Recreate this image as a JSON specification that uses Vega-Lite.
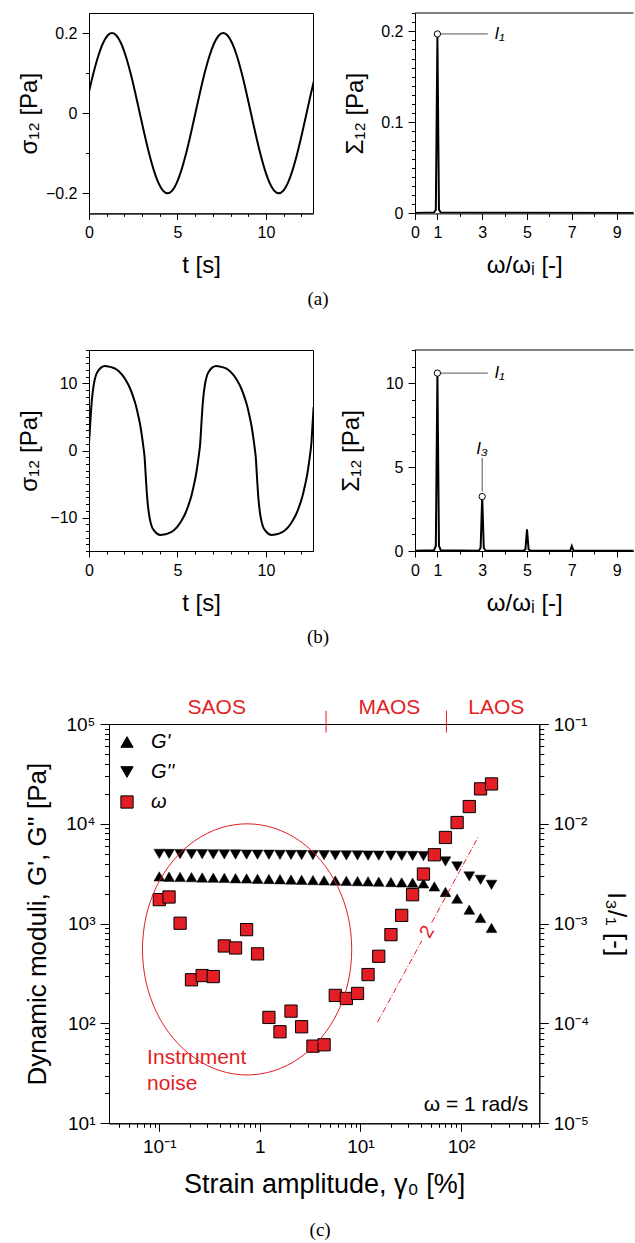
{
  "$schema": "https://vega.github.io/schema/vega-lite/v6.json",
  "padding": {"left": 16, "top": 5, "right": 0, "bottom": 0},
  "background": "white",
  "bounds": "full",
  "spacing": 48,
  "resolve": {"scale": {"color": "independent", "shape": "independent"}, "legend": {"color": "independent", "shape": "independent"}},
  "config": {
    "font": "Liberation Sans",
    "view": {"stroke": "black", "strokeWidth": 1},
    "axis": {"grid": false, "domainColor": "black", "domainWidth": 1, "tickColor": "black", "tickWidth": 1, "labelColor": "black", "titleColor": "black", "labelFont": "Liberation Sans", "titleFont": "Liberation Sans", "labelFontSize": 16, "titleFontSize": 24, "titleFontWeight": "normal", "labelFlush": false, "labelOverlap": false, "labelPadding": 3},
    "title": {"font": "Liberation Serif", "fontSize": 19, "fontWeight": "normal", "color": "black"},
    "text": {"font": "Liberation Sans"}
  },
  "datasets": {
    "sineA": [
      {"t": 0, "s": 0.0535}, {"t": 0.253, "s": 0.1}, {"t": 0.515, "s": 0.1414}, {"t": 0.776, "s": 0.1732}, {"t": 1.038, "s": 0.1932}, {"t": 1.3, "s": 0.2}, {"t": 1.562, "s": 0.1932}, {"t": 1.824, "s": 0.1732}, {"t": 2.085, "s": 0.1414}, {"t": 2.347, "s": 0.1}, {"t": 2.609, "s": 0.0518}, {"t": 2.871, "s": 0}, {"t": 3.133, "s": -0.0518}, {"t": 3.394, "s": -0.1}, {"t": 3.656, "s": -0.1414}, {"t": 3.918, "s": -0.1732}, {"t": 4.18, "s": -0.1932}, {"t": 4.442, "s": -0.2}, {"t": 4.703, "s": -0.1932}, {"t": 4.965, "s": -0.1732}, {"t": 5.227, "s": -0.1414}, {"t": 5.489, "s": -0.1}, {"t": 5.751, "s": -0.0518}, {"t": 6.012, "s": 0}, {"t": 6.274, "s": 0.0518}, {"t": 6.536, "s": 0.1}, {"t": 6.798, "s": 0.1414}, {"t": 7.06, "s": 0.1732}, {"t": 7.321, "s": 0.1932}, {"t": 7.583, "s": 0.2}, {"t": 7.845, "s": 0.1932}, {"t": 8.107, "s": 0.1732}, {"t": 8.369, "s": 0.1414}, {"t": 8.63, "s": 0.1}, {"t": 8.892, "s": 0.0518}, {"t": 9.154, "s": 0}, {"t": 9.416, "s": -0.0518}, {"t": 9.678, "s": -0.1}, {"t": 9.939, "s": -0.1414}, {"t": 10.201, "s": -0.1732}, {"t": 10.463, "s": -0.1932}, {"t": 10.725, "s": -0.2}, {"t": 10.987, "s": -0.1932}, {"t": 11.248, "s": -0.1732}, {"t": 11.51, "s": -0.1414}, {"t": 11.772, "s": -0.1}, {"t": 12.034, "s": -0.0518}, {"t": 12.296, "s": 0}, {"t": 12.557, "s": 0.0518}, {"t": 12.819, "s": 0.1}
    ],
    "stressB": [
      {"t": 0, "s": 1.0}, {"t": 0.07, "s": 4.0}, {"t": 0.13, "s": 6.5}, {"t": 0.2, "s": 8.5}, {"t": 0.28, "s": 10.0}, {"t": 0.4, "s": 11.3}, {"t": 0.55, "s": 12.0}, {"t": 0.7, "s": 12.4}, {"t": 0.9, "s": 12.6}, {"t": 1.1, "s": 12.55}, {"t": 1.3, "s": 12.4}, {"t": 1.5, "s": 12.2}, {"t": 1.7, "s": 11.8}, {"t": 1.9, "s": 11.2}, {"t": 2.1, "s": 10.4}, {"t": 2.3, "s": 9.4}, {"t": 2.5, "s": 8.0}, {"t": 2.65, "s": 6.7}, {"t": 2.8, "s": 5.0}, {"t": 2.9, "s": 3.7}, {"t": 3.0, "s": 2.0}, {"t": 3.07, "s": 0.6},
      {"t": 3.142, "s": -1.0}, {"t": 3.212, "s": -4.0}, {"t": 3.272, "s": -6.5}, {"t": 3.342, "s": -8.5}, {"t": 3.422, "s": -10.0}, {"t": 3.542, "s": -11.3}, {"t": 3.692, "s": -12.0}, {"t": 3.842, "s": -12.4}, {"t": 4.042, "s": -12.6}, {"t": 4.242, "s": -12.55}, {"t": 4.442, "s": -12.4}, {"t": 4.642, "s": -12.2}, {"t": 4.842, "s": -11.8}, {"t": 5.042, "s": -11.2}, {"t": 5.242, "s": -10.4}, {"t": 5.442, "s": -9.4}, {"t": 5.642, "s": -8.0}, {"t": 5.792, "s": -6.7}, {"t": 5.942, "s": -5.0}, {"t": 6.042, "s": -3.7}, {"t": 6.142, "s": -2.0}, {"t": 6.212, "s": -0.6},
      {"t": 6.283, "s": 1.0}, {"t": 6.353, "s": 4.0}, {"t": 6.413, "s": 6.5}, {"t": 6.483, "s": 8.5}, {"t": 6.563, "s": 10.0}, {"t": 6.683, "s": 11.3}, {"t": 6.833, "s": 12.0}, {"t": 6.983, "s": 12.4}, {"t": 7.183, "s": 12.6}, {"t": 7.383, "s": 12.55}, {"t": 7.583, "s": 12.4}, {"t": 7.783, "s": 12.2}, {"t": 7.983, "s": 11.8}, {"t": 8.183, "s": 11.2}, {"t": 8.383, "s": 10.4}, {"t": 8.583, "s": 9.4}, {"t": 8.783, "s": 8.0}, {"t": 8.933, "s": 6.7}, {"t": 9.083, "s": 5.0}, {"t": 9.183, "s": 3.7}, {"t": 9.283, "s": 2.0}, {"t": 9.353, "s": 0.6},
      {"t": 9.425, "s": -1.0}, {"t": 9.495, "s": -4.0}, {"t": 9.555, "s": -6.5}, {"t": 9.625, "s": -8.5}, {"t": 9.705, "s": -10.0}, {"t": 9.825, "s": -11.3}, {"t": 9.975, "s": -12.0}, {"t": 10.125, "s": -12.4}, {"t": 10.325, "s": -12.6}, {"t": 10.525, "s": -12.55}, {"t": 10.725, "s": -12.4}, {"t": 10.925, "s": -12.2}, {"t": 11.125, "s": -11.8}, {"t": 11.325, "s": -11.2}, {"t": 11.525, "s": -10.4}, {"t": 11.725, "s": -9.4}, {"t": 11.925, "s": -8.0}, {"t": 12.075, "s": -6.7}, {"t": 12.225, "s": -5.0}, {"t": 12.325, "s": -3.7}, {"t": 12.425, "s": -2.0}, {"t": 12.495, "s": -0.6},
      {"t": 12.566, "s": 1.0}, {"t": 12.636, "s": 4.0}, {"t": 12.696, "s": 6.5}
    ],
    "specA": [
      {"f": 0, "A": 0.0005}, {"f": 0.85, "A": 0.001}, {"f": 0.93, "A": 0.004}, {"f": 1.0, "A": 0.195}, {"f": 1.07, "A": 0.004}, {"f": 1.15, "A": 0.001}, {"f": 3, "A": 0.0008}, {"f": 10, "A": 0.0005}
    ],
    "specB": [
      {"f": 0, "A": 0.02}, {"f": 0.85, "A": 0.05}, {"f": 0.93, "A": 0.3}, {"f": 1.0, "A": 10.6}, {"f": 1.07, "A": 0.3}, {"f": 1.15, "A": 0.05}, {"f": 2.85, "A": 0.02}, {"f": 2.93, "A": 0.2}, {"f": 3.0, "A": 3.25}, {"f": 3.07, "A": 0.2}, {"f": 3.15, "A": 0.02}, {"f": 4.85, "A": 0.02}, {"f": 4.93, "A": 0.1}, {"f": 5.0, "A": 1.3}, {"f": 5.07, "A": 0.1}, {"f": 5.15, "A": 0.02}, {"f": 6.85, "A": 0.02}, {"f": 6.93, "A": 0.03}, {"f": 7.0, "A": 0.3}, {"f": 7.07, "A": 0.03}, {"f": 7.15, "A": 0.02}, {"f": 10, "A": 0.02}
    ],
    "moduli": [
      {"strain": 0.1, "Gp": 2970, "Gpp": 5000, "I31": 0.00174},
      {"strain": 0.125, "Gp": 2950, "Gpp": 4990, "I31": 0.00185},
      {"strain": 0.161, "Gp": 2935, "Gpp": 4980, "I31": 0.00101},
      {"strain": 0.209, "Gp": 2920, "Gpp": 4970, "I31": 0.000274},
      {"strain": 0.267, "Gp": 2900, "Gpp": 4960, "I31": 0.000302},
      {"strain": 0.344, "Gp": 2885, "Gpp": 4950, "I31": 0.000295},
      {"strain": 0.443, "Gp": 2870, "Gpp": 4940, "I31": 0.000598},
      {"strain": 0.573, "Gp": 2850, "Gpp": 4930, "I31": 0.000571},
      {"strain": 0.738, "Gp": 2835, "Gpp": 4920, "I31": 0.000871},
      {"strain": 0.948, "Gp": 2815, "Gpp": 4910, "I31": 0.000498},
      {"strain": 1.23, "Gp": 2800, "Gpp": 4900, "I31": 0.000115},
      {"strain": 1.585, "Gp": 2785, "Gpp": 4890, "I31": 0.0000826},
      {"strain": 2.04, "Gp": 2765, "Gpp": 4880, "I31": 0.000133},
      {"strain": 2.6, "Gp": 2750, "Gpp": 4870, "I31": 0.0000927},
      {"strain": 3.37, "Gp": 2730, "Gpp": 4860, "I31": 0.0000593},
      {"strain": 4.35, "Gp": 2715, "Gpp": 4850, "I31": 0.0000612},
      {"strain": 5.62, "Gp": 2700, "Gpp": 4840, "I31": 0.000191},
      {"strain": 7.24, "Gp": 2680, "Gpp": 4830, "I31": 0.000178},
      {"strain": 9.35, "Gp": 2665, "Gpp": 4820, "I31": 0.0002},
      {"strain": 11.9, "Gp": 2650, "Gpp": 4810, "I31": 0.000309},
      {"strain": 15.2, "Gp": 2630, "Gpp": 4800, "I31": 0.000471},
      {"strain": 20.1, "Gp": 2610, "Gpp": 4790, "I31": 0.000776},
      {"strain": 25.7, "Gp": 2590, "Gpp": 4780, "I31": 0.00121},
      {"strain": 33.0, "Gp": 2570, "Gpp": 4770, "I31": 0.00195},
      {"strain": 42.3, "Gp": 2530, "Gpp": 4750, "I31": 0.00314},
      {"strain": 54.3, "Gp": 2360, "Gpp": 4700, "I31": 0.0049},
      {"strain": 70.0, "Gp": 2075, "Gpp": 4200, "I31": 0.0073},
      {"strain": 91.4, "Gp": 1780, "Gpp": 3740, "I31": 0.0103},
      {"strain": 120.8, "Gp": 1380, "Gpp": 2970, "I31": 0.0149},
      {"strain": 156.3, "Gp": 1140, "Gpp": 2750, "I31": 0.0224},
      {"strain": 200.9, "Gp": 905, "Gpp": 2450, "I31": 0.0251}
    ],
    "ellipse": [
      {"i": 0, "lx": 0.913, "ly": 2.742}, {"i": 1, "lx": 0.878, "ly": 3.068}, {"i": 2, "lx": 0.774, "ly": 3.371}, {"i": 3, "lx": 0.608, "ly": 3.631}, {"i": 4, "lx": 0.393, "ly": 3.831}, {"i": 5, "lx": 0.142, "ly": 3.957}, {"i": 6, "lx": -0.127, "ly": 4.0}, {"i": 7, "lx": -0.396, "ly": 3.957}, {"i": 8, "lx": -0.647, "ly": 3.831}, {"i": 9, "lx": -0.862, "ly": 3.631}, {"i": 10, "lx": -1.028, "ly": 3.371}, {"i": 11, "lx": -1.132, "ly": 3.068}, {"i": 12, "lx": -1.167, "ly": 2.742}, {"i": 13, "lx": -1.132, "ly": 2.416}, {"i": 14, "lx": -1.028, "ly": 2.113}, {"i": 15, "lx": -0.862, "ly": 1.853}, {"i": 16, "lx": -0.647, "ly": 1.653}, {"i": 17, "lx": -0.396, "ly": 1.527}, {"i": 18, "lx": -0.127, "ly": 1.484}, {"i": 19, "lx": 0.142, "ly": 1.527}, {"i": 20, "lx": 0.393, "ly": 1.653}, {"i": 21, "lx": 0.608, "ly": 1.853}, {"i": 22, "lx": 0.774, "ly": 2.113}, {"i": 23, "lx": 0.878, "ly": 2.416}
    ]
  },
  "vconcat": [
    {
      "columns": 3,
      "bounds": "flush",
      "spacing": 0,
      "concat": [
        {
          "width": 224, "height": 200.4,
          "title": {"text": "(a)", "orient": "bottom", "anchor": "middle", "offset": 22, "dx": 117, "baseline": "middle"},
          "data": {"name": "sineA"},
          "mark": {"type": "line", "color": "black", "strokeWidth": 2, "interpolate": "monotone", "clip": true},
          "encoding": {
            "x": {"field": "t", "type": "quantitative", "scale": {"domain": [0, 12.66], "nice": false, "zero": false},
              "axis": {"title": "t [s]", "labelOverlap": false, "values": [0,1,2,3,4,5,6,7,8,9,10,11,12], "labelExpr": "datum.value % 5 === 0 ? datum.label : ''", "tickSize": {"condition": {"test": "datum.value % 5 === 0", "value": 6}, "value": 3}, "labelPadding": 5, "titlePadding": 13}},
            "y": {"field": "s", "type": "quantitative", "scale": {"domain": [-0.25, 0.25], "nice": false, "zero": false},
              "axis": {"title": "σ₁₂ [Pa]", "labelOverlap": false, "values": [-0.2,-0.1,0,0.1,0.2], "labelExpr": "round(datum.value*10) % 2 === 0 ? format(datum.value, '~g') : ''", "tickSize": {"condition": {"test": "round(datum.value*10) % 2 === 0", "value": 7}, "value": 3.5}, "labelPadding": 5, "titlePadding": 4}}
          }
        },
        {"width": 101.3, "height": 200.4, "view": {"stroke": null}, "data": {"values": []}, "mark": "point"},
        {
          "width": 218.5, "height": 200.4,
          "view": {"stroke": null},
          "resolve": {"axis": {"x": "independent", "y": "independent"}},
          "layer": [
            {
              "data": {"name": "specA"},
              "mark": {"type": "line", "color": "black", "strokeWidth": 2, "clip": true},
              "encoding": {
                "x": {"field": "f", "type": "quantitative", "scale": {"domain": [0, 9.755], "nice": false, "zero": false},
                  "axis": {"title": "ω/ωᵢ [-]", "labelOverlap": false, "values": [0,1,2,3,4,5,6,7,8,9], "labelExpr": "indexof([0,1,3,5,7,9], datum.value) >= 0 ? datum.label : ''", "tickSize": {"condition": {"test": "indexof([0,1,3,5,7,9], datum.value) >= 0", "value": 6}, "value": 3}, "labelPadding": 5, "titlePadding": 13}},
                "y": {"field": "A", "type": "quantitative", "scale": {"domain": [0, 0.22], "nice": false},
                  "axis": {"title": "Σ₁₂ [Pa]", "labelOverlap": false, "values": [0,0.01,0.02,0.03,0.04,0.05,0.06,0.07,0.08,0.09,0.1,0.11,0.12,0.13,0.14,0.15,0.16,0.17,0.18,0.19,0.2,0.21,0.22], "labelExpr": "abs(datum.value*10 - round(datum.value*10)) < 0.001 ? format(datum.value, '~g') : ''", "tickSize": {"condition": {"test": "abs(datum.value*10 - round(datum.value*10)) < 0.001", "value": 7}, "value": 3.5}, "labelPadding": 5, "titlePadding": 13}}
              }
            },
            {
              "data": {"values": [{}]},
              "mark": {"type": "rule", "color": "black", "strokeWidth": 1},
              "encoding": {"y": {"datum": 0.22, "type": "quantitative", "axis": null}}
            },
            {
              "data": {"values": [{"x": 1.15, "x2": 3.25, "y": 0.197, "y2": 0.197}]},
              "mark": {"type": "rule", "color": "#555555", "strokeWidth": 1},
              "encoding": {"x": {"field": "x", "type": "quantitative", "axis": null}, "x2": {"field": "x2"}, "y": {"field": "y", "type": "quantitative", "axis": null}, "y2": {"field": "y2"}}
            },
            {
              "data": {"values": [{"x": 1, "y": 0.197}]},
              "mark": {"type": "point", "shape": "circle", "size": 40, "fill": "white", "stroke": "black", "strokeWidth": 1, "opacity": 1},
              "encoding": {"x": {"field": "x", "type": "quantitative", "axis": null}, "y": {"field": "y", "type": "quantitative", "axis": null}}
            },
            {
              "data": {"values": [{"x": 3.55, "y": 0.197, "label": "I₁"}]},
              "mark": {"type": "text", "align": "left", "baseline": "middle", "fontSize": 17, "fontStyle": "italic"},
              "encoding": {"x": {"field": "x", "type": "quantitative", "axis": null}, "y": {"field": "y", "type": "quantitative", "axis": null}, "text": {"field": "label"}}
            }
          ]
        },
        {"width": 1, "height": 136, "view": {"stroke": null}, "data": {"values": []}, "mark": "point"},
        {"width": 1, "height": 136, "view": {"stroke": null}, "data": {"values": []}, "mark": "point"},
        {"width": 1, "height": 136, "view": {"stroke": null}, "data": {"values": []}, "mark": "point"},
        {
          "width": 224, "height": 201,
          "title": {"text": "(b)", "orient": "bottom", "anchor": "middle", "offset": 22, "dx": 117, "baseline": "middle"},
          "data": {"name": "stressB"},
          "mark": {"type": "line", "color": "black", "strokeWidth": 2, "interpolate": "monotone", "clip": true},
          "encoding": {
            "x": {"field": "t", "type": "quantitative", "scale": {"domain": [0, 12.66], "nice": false, "zero": false},
              "axis": {"title": "t [s]", "labelOverlap": false, "values": [0,1,2,3,4,5,6,7,8,9,10,11,12], "labelExpr": "datum.value % 5 === 0 ? datum.label : ''", "tickSize": {"condition": {"test": "datum.value % 5 === 0", "value": 6}, "value": 3}, "labelPadding": 5, "titlePadding": 13}},
            "y": {"field": "s", "type": "quantitative", "scale": {"domain": [-15, 15], "nice": false, "zero": false},
              "axis": {"title": "σ₁₂ [Pa]", "labelOverlap": false, "values": [-15,-14,-13,-12,-11,-10,-9,-8,-7,-6,-5,-4,-3,-2,-1,0,1,2,3,4,5,6,7,8,9,10,11,12,13,14,15], "labelExpr": "datum.value % 10 === 0 ? format(datum.value, '~g') : ''", "tickSize": {"condition": {"test": "datum.value % 10 === 0", "value": 7}, "value": 3.5}, "labelPadding": 5, "titlePadding": 8}}
          }
        },
        {"width": 101.3, "height": 201, "view": {"stroke": null}, "data": {"values": []}, "mark": "point"},
        {
          "width": 218.5, "height": 201,
          "view": {"stroke": null},
          "resolve": {"axis": {"x": "independent", "y": "independent"}},
          "layer": [
            {
              "data": {"name": "specB"},
              "mark": {"type": "line", "color": "black", "strokeWidth": 2, "clip": true},
              "encoding": {
                "x": {"field": "f", "type": "quantitative", "scale": {"domain": [0, 9.755], "nice": false, "zero": false},
                  "axis": {"title": "ω/ωᵢ [-]", "labelOverlap": false, "values": [0,1,2,3,4,5,6,7,8,9], "labelExpr": "indexof([0,1,3,5,7,9], datum.value) >= 0 ? datum.label : ''", "tickSize": {"condition": {"test": "indexof([0,1,3,5,7,9], datum.value) >= 0", "value": 6}, "value": 3}, "labelPadding": 5, "titlePadding": 13}},
                "y": {"field": "A", "type": "quantitative", "scale": {"domain": [0, 12], "nice": false},
                  "axis": {"title": "Σ₁₂ [Pa]", "labelOverlap": false, "values": [0,1,2,3,4,5,6,7,8,9,10,11,12], "labelExpr": "datum.value % 5 === 0 ? format(datum.value, '~g') : ''", "tickSize": {"condition": {"test": "datum.value % 5 === 0", "value": 7}, "value": 3.5}, "labelPadding": 5, "titlePadding": 22}}
              }
            },
            {
              "data": {"values": [{}]},
              "mark": {"type": "rule", "color": "black", "strokeWidth": 1},
              "encoding": {"y": {"datum": 12, "type": "quantitative", "axis": null}}
            },
            {
              "data": {"values": [{"x": 1.15, "x2": 3.25, "y": 10.62, "y2": 10.62}, {"x": 3, "x2": 3, "y": 3.55, "y2": 5.55}]},
              "mark": {"type": "rule", "color": "#555555", "strokeWidth": 1},
              "encoding": {"x": {"field": "x", "type": "quantitative", "axis": null}, "x2": {"field": "x2"}, "y": {"field": "y", "type": "quantitative", "axis": null}, "y2": {"field": "y2"}}
            },
            {
              "data": {"values": [{"x": 1, "y": 10.62}, {"x": 3, "y": 3.25}]},
              "mark": {"type": "point", "shape": "circle", "size": 40, "fill": "white", "stroke": "black", "strokeWidth": 1, "opacity": 1},
              "encoding": {"x": {"field": "x", "type": "quantitative", "axis": null}, "y": {"field": "y", "type": "quantitative", "axis": null}}
            },
            {
              "data": {"values": [{"x": 3.55, "y": 10.62, "label": "I₁"}, {"x": 2.74, "y": 6.1, "label": "I₃"}]},
              "mark": {"type": "text", "align": "left", "baseline": "middle", "fontSize": 17, "fontStyle": "italic"},
              "encoding": {"x": {"field": "x", "type": "quantitative", "axis": null}, "y": {"field": "y", "type": "quantitative", "axis": null}, "text": {"field": "label"}}
            }
          ]
        }
      ]
    },
    {
      "bounds": "flush",
      "spacing": 0,
      "resolve": {"scale": {"color": "independent", "shape": "independent"}, "legend": {"color": "independent", "shape": "independent"}},
      "hconcat": [
        {"width": 19.7, "height": 399.3, "view": {"stroke": null}, "data": {"values": []}, "mark": "point"},
        {
          "width": 430.3, "height": 399.3,
          "title": {"text": "(c)", "orient": "bottom", "anchor": "middle", "offset": 33, "dx": -4, "baseline": "middle"},
          "layer": [
            {
              "data": {"name": "moduli"},
              "transform": [{"fold": ["Gp", "Gpp"], "as": ["series", "value"]}],
              "mark": {"type": "point", "filled": true, "size": 115, "opacity": 1, "stroke": "black", "strokeWidth": 0.5},
              "encoding": {
                "x": {"field": "strain", "type": "quantitative", "scale": {"type": "log", "domain": [0.031623, 600], "nice": false},
                  "axis": {"title": "Strain amplitude, γ₀ [%]", "labelOverlap": false, "titleFontSize": 27, "labelFontSize": 19, "values": [0.04,0.05,0.06,0.07,0.08,0.09,0.1,0.2,0.3,0.4,0.5,0.6,0.7,0.8,0.9,1,2,3,4,5,6,7,8,9,10,20,30,40,50,60,70,80,90,100,200,300,400,500,600], "labelExpr": "datum.value === 0.1 ? '10⁻¹' : datum.value === 1 ? '1' : datum.value === 10 ? '10¹' : datum.value === 100 ? '10²' : ''", "tickSize": {"condition": {"test": "indexof([0.1,1,10,100], datum.value) >= 0", "value": 8}, "value": 4}, "labelPadding": 6, "titlePadding": 15}},
                "y": {"field": "value", "type": "quantitative", "scale": {"type": "log", "domain": [10, 100000], "nice": false},
                  "axis": {"title": "Dynamic moduli, G', G'' [Pa]", "labelOverlap": false, "titleFontSize": 26, "labelFontSize": 19, "values": [10,20,30,40,50,60,70,80,90,100,200,300,400,500,600,700,800,900,1000,2000,3000,4000,5000,6000,7000,8000,9000,10000,20000,30000,40000,50000,60000,70000,80000,90000,100000], "labelExpr": "datum.value === 10 ? '10¹' : datum.value === 100 ? '10²' : datum.value === 1000 ? '10³' : datum.value === 10000 ? '10⁴' : datum.value === 100000 ? '10⁵' : ''", "tickSize": {"condition": {"test": "indexof([10,100,1000,10000,100000], datum.value) >= 0", "value": 9}, "value": 4.5}, "labelPadding": 5, "titlePadding": 15}},
                "color": {"field": "series", "type": "nominal", "scale": {"domain": ["Gp", "Gpp", "ω"], "range": ["black", "black", "#e31e24"]},
                  "legend": {"orient": "top-left", "title": null, "offset": 8, "padding": 0, "labelFontSize": 20, "labelFontStyle": "italic", "labelFont": "Liberation Sans", "symbolSize": 150, "rowPadding": 10, "labelOffset": 14, "symbolStrokeColor": "black", "symbolStrokeWidth": 1, "labelExpr": "datum.label === 'Gp' ? \"G'\" : datum.label === 'Gpp' ? \"G''\" : datum.label"}},
                "shape": {"field": "series", "type": "nominal", "scale": {"domain": ["Gp", "Gpp", "ω"], "range": ["triangle-up", "triangle-down", "square"]},
                  "legend": {"orient": "top-left", "title": null, "offset": 8, "padding": 0, "labelFontSize": 20, "labelFontStyle": "italic", "labelFont": "Liberation Sans", "symbolSize": 150, "rowPadding": 10, "labelOffset": 14, "symbolStrokeColor": "black", "symbolStrokeWidth": 1, "labelExpr": "datum.label === 'Gp' ? \"G'\" : datum.label === 'Gpp' ? \"G''\" : datum.label"}}
              }
            },
            {
              "data": {"name": "moduli"},
              "mark": {"type": "point", "filled": true, "size": 150, "opacity": 1, "stroke": "black", "strokeWidth": 1},
              "encoding": {
                "x": {"field": "strain", "type": "quantitative", "scale": {"type": "log", "domain": [0.031623, 600], "nice": false}, "axis": null},
                "y": {"field": "I31", "type": "quantitative", "scale": {"type": "log", "domain": [0.00001, 0.1], "nice": false},
                  "axis": {"orient": "right", "title": "I₃/₁ [-]", "labelOverlap": false, "titleFontSize": 26, "labelFontSize": 19, "values": [0.00001,0.00002,0.00003,0.00004,0.00005,0.00006,0.00007,0.00008,0.00009,0.0001,0.0002,0.0003,0.0004,0.0005,0.0006,0.0007,0.0008,0.0009,0.001,0.002,0.003,0.004,0.005,0.006,0.007,0.008,0.009,0.01,0.02,0.03,0.04,0.05,0.06,0.07,0.08,0.09,0.1], "labelExpr": "datum.value === 0.00001 ? '10⁻⁵' : datum.value === 0.0001 ? '10⁻⁴' : datum.value === 0.001 ? '10⁻³' : datum.value === 0.01 ? '10⁻²' : datum.value === 0.1 ? '10⁻¹' : ''", "tickSize": {"condition": {"test": "indexof([0.00001,0.0001,0.001,0.01,0.1], datum.value) >= 0", "value": 9}, "value": 4.5}, "labelPadding": 5, "titlePadding": 14}},
                "color": {"datum": "ω", "type": "nominal"},
                "shape": {"datum": "ω", "type": "nominal"}
              }
            },
            {
              "encoding": {
                "x": {"field": "lx", "type": "quantitative", "scale": {"domain": [-1.5, 2.778], "nice": false, "zero": false}, "axis": null},
                "y": {"field": "ly", "type": "quantitative", "scale": {"domain": [1, 5], "nice": false, "zero": false}, "axis": null}
              },
              "layer": [
                {
                  "data": {"name": "ellipse"},
                  "mark": {"type": "line", "color": "#e31e24", "strokeWidth": 1, "interpolate": "cardinal-closed"},
                  "encoding": {"order": {"field": "i", "type": "quantitative"}}
                },
                {
                  "data": {"values": [{"seg": 1, "lx": 1.17, "ly": 2.013}, {"seg": 1, "lx": 1.61, "ly": 2.829}, {"seg": 2, "lx": 1.709, "ly": 3.012}, {"seg": 2, "lx": 2.173, "ly": 3.873}]},
                  "mark": {"type": "line", "color": "#e31e24", "strokeWidth": 1, "strokeDash": [6, 2, 1, 2]},
                  "encoding": {"detail": {"field": "seg", "type": "nominal"}}
                },
                {
                  "data": {"values": [{"lx": 1.66, "ly": 2.92, "label": "2"}]},
                  "mark": {"type": "text", "color": "#e31e24", "fontSize": 19, "angle": -60, "align": "center", "baseline": "middle"},
                  "encoding": {"text": {"field": "label"}}
                },
                {
                  "data": {"values": [{"lx": 0.658, "ly": 5.133, "ly2": 4.915}, {"lx": 1.855, "ly": 5.133, "ly2": 4.915}]},
                  "mark": {"type": "rule", "color": "#e31e24", "strokeWidth": 1},
                  "encoding": {"y2": {"field": "ly2"}}
                },
                {
                  "data": {"values": [{"lx": -0.429, "ly": 5.16, "label": "SAOS"}, {"lx": 1.287, "ly": 5.16, "label": "MAOS"}, {"lx": 2.35, "ly": 5.16, "label": "LAOS"}]},
                  "mark": {"type": "text", "color": "#e31e24", "fontSize": 21, "align": "center", "baseline": "middle"},
                  "encoding": {"text": {"field": "label"}}
                },
                {
                  "data": {"values": [{"lx": -1.121, "ly": 1.657, "label": "Instrument"}, {"lx": -1.121, "ly": 1.39, "label": "noise"}]},
                  "mark": {"type": "text", "color": "#e31e24", "fontSize": 21, "align": "left", "baseline": "middle"},
                  "encoding": {"text": {"field": "label"}}
                },
                {
                  "data": {"values": [{"lx": 2.668, "ly": 1.18, "label": "ω = 1 rad/s"}]},
                  "mark": {"type": "text", "color": "black", "fontSize": 21, "align": "right", "baseline": "middle"},
                  "encoding": {"text": {"field": "label"}}
                }
              ]
            }
          ],
          "resolve": {"scale": {"x": "independent", "y": "independent"}}
        }
      ]
    }
  ]
}
